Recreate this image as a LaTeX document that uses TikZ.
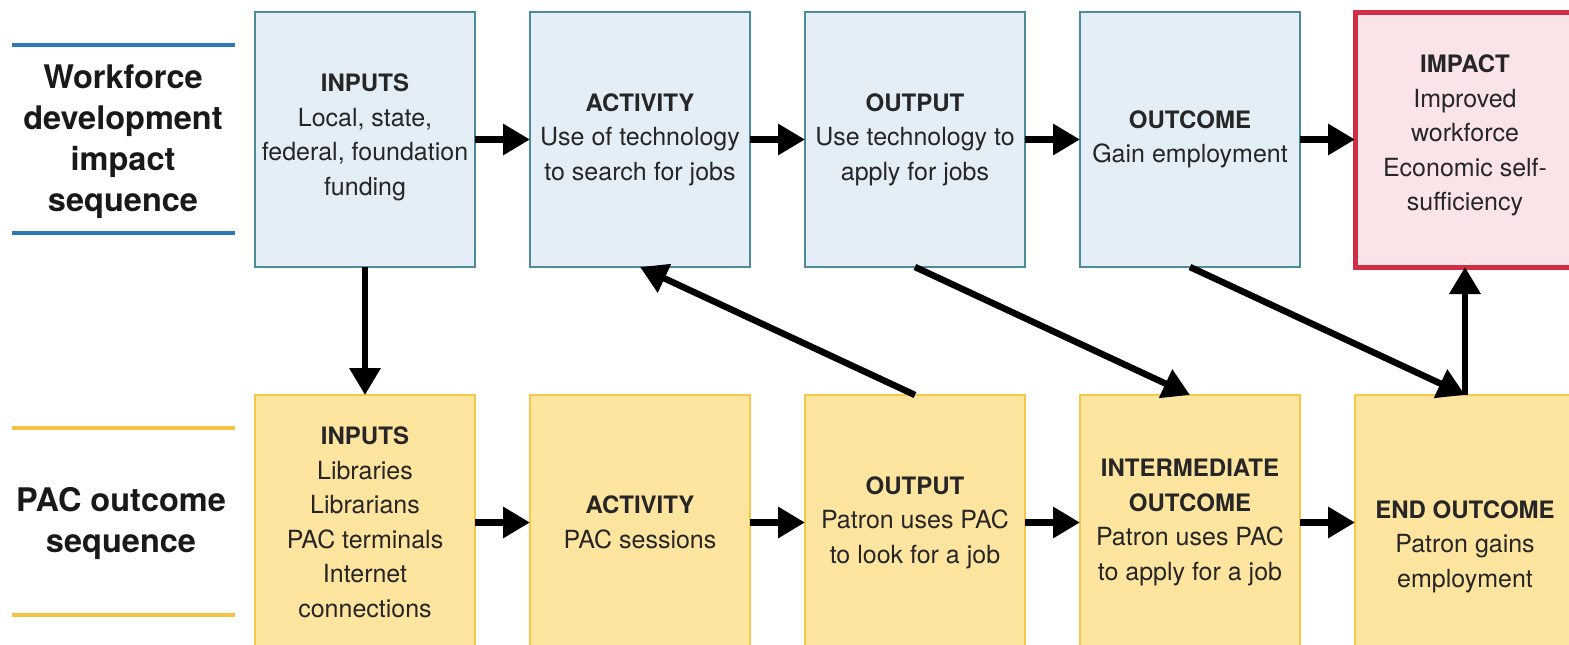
\documentclass[tikz,border=0pt]{standalone}
\usepackage{fontspec}
\setmainfont{TeX Gyre Heros}
\usetikzlibrary{arrows.meta,calc}
\definecolor{bfill}{HTML}{E3EEF6}
\definecolor{bdraw}{HTML}{4D8A9B}
\definecolor{rfill}{HTML}{FBE4E7}
\definecolor{rdraw}{HTML}{D12C48}
\definecolor{yfill}{HTML}{FDE49F}
\definecolor{ydraw}{HTML}{F5C84A}
\definecolor{bline}{HTML}{2F78B7}
\definecolor{yline}{HTML}{F6C345}
\newcommand\boxtitle[1]{{\fontsize{24}{34.5}\selectfont\bfseries #1}}
\begin{document}
\begin{tikzpicture}[x=1pt,y=-1pt,
 box/.style={rectangle, minimum width=220pt, minimum height=255pt, inner sep=0pt, outer sep=0pt},
 bluebox/.style={box, fill=bfill, draw=bdraw, line width=2.5pt},
 redbox/.style={box, fill=rfill, draw=rdraw, line width=5pt},
 yelbox/.style={box, fill=yfill, draw=ydraw, line width=2.5pt},
 txt/.style={align=center, font=\fontsize{25}{34.5}\selectfont, text=black!85, inner sep=0pt},
 side/.style={align=center, font=\fontsize{32.5}{41}\selectfont\bfseries, text=black!90, inner sep=0pt},
 sideline/.style={line width=3.5pt},
 arr/.style={line width=6.5pt, -{Triangle[length=27pt,width=30pt]}},
]
\fill[white] (0,0) rectangle (1569,645);
\useasboundingbox (0,0) rectangle (1569,645);

% side labels
\draw[sideline, bline] (12,45) -- (235,45);
\draw[sideline, bline] (12,233) -- (235,233);
\node[side] (lab1) at (123,142) {Workforce\\development\\impact\\sequence};
\draw[sideline, yline] (12,428) -- (235,428);
\draw[sideline, yline] (12,615) -- (235,615);
\node[side] (lab2) at (121,523) {PAC outcome\\sequence};

% top row boxes
\node[bluebox] (t1) at (365,139.5) {};
\node[bluebox] (t2) at (640,139.5) {};
\node[bluebox] (t3) at (915,139.5) {};
\node[bluebox] (t4) at (1190,139.5) {};
\node[redbox]  (t5) at (1465,139.5) {};

\node[txt] (t1t) at ([yshift=2pt]t1.center) {\boxtitle{INPUTS}\\Local, state,\\federal, foundation\\funding};
\node[txt] (t2t) at (t2.center) {\boxtitle{ACTIVITY}\\Use of technology\\to search for jobs};
\node[txt] (t3t) at (t3.center) {\boxtitle{OUTPUT}\\Use technology to\\apply for jobs};
\node[txt] (t4t) at (t4.center) {\boxtitle{OUTCOME}\\Gain employment};
\node[txt] (t5t) at ([yshift=4pt]t5.center) {\boxtitle{IMPACT}\\Improved\\workforce\\Economic self-\\sufficiency};

% bottom row boxes
\node[yelbox] (b1) at (365,522.5) {};
\node[yelbox] (b2) at (640,522.5) {};
\node[yelbox] (b3) at (915,522.5) {};
\node[yelbox] (b4) at (1190,522.5) {};
\node[yelbox] (b5) at (1465,522.5) {};

\node[txt] (b1t) at (b1.center) {\boxtitle{INPUTS}\\Libraries\\Librarians\\PAC terminals\\Internet\\connections};
\node[txt] (b2t) at (b2.center) {\boxtitle{ACTIVITY}\\PAC sessions};
\node[txt] (b3t) at (b3.center) {\boxtitle{OUTPUT}\\Patron uses PAC\\to look for a job};
\node[txt] (b4t) at (b4.center) {\boxtitle{INTERMEDIATE}\\\boxtitle{OUTCOME}\\Patron uses PAC\\to apply for a job};
\node[txt] (b5t) at ([yshift=-24pt]b5.center) {\boxtitle{END OUTCOME}\\Patron gains\\employment};

% connectors
\draw[arr] (t1) -- (t2);
\draw[arr] (t2) -- (t3);
\draw[arr] (t3) -- (t4);
\draw[arr] (t4) -- (t5);
\draw[arr] (b1) -- (b2);
\draw[arr] (b2) -- (b3);
\draw[arr] (b3) -- (b4);
\draw[arr] (b4) -- (b5);
\draw[arr] (t1.south) -- (b1.north);
\draw[arr] (b3.north) -- (t2.south);
\draw[arr] (t3.south) -- (b4.north);
\draw[arr] (t4.south) -- (b5.north);
\draw[arr] (b5.north) -- (t5.south);
\end{tikzpicture}
\end{document}
